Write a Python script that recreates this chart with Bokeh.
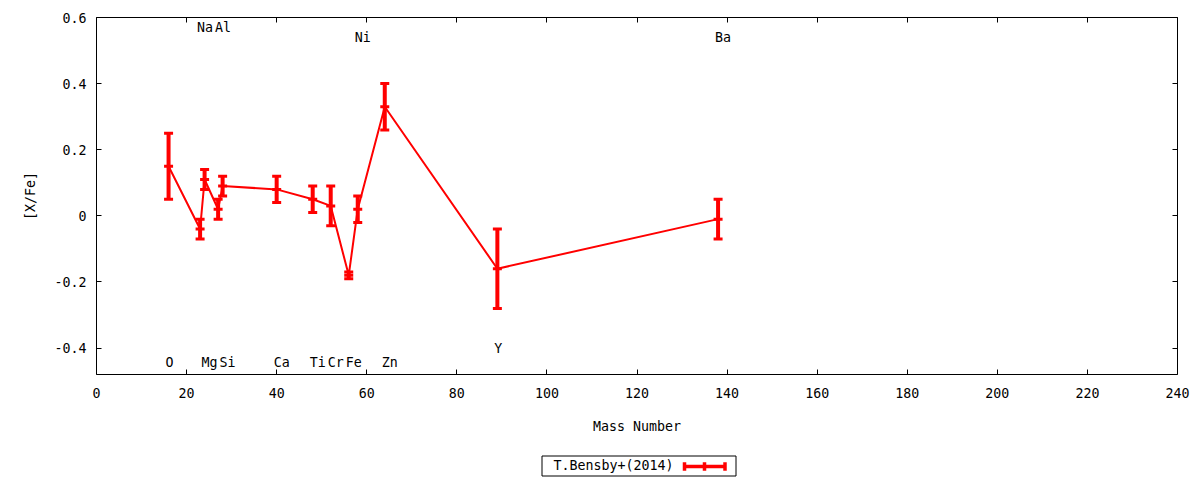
from bokeh.plotting import figure
from bokeh.models import Range1d, FixedTicker, LinearAxis, ColumnDataSource
from bokeh.layouts import column
from bokeh.core.properties import value
from bokeh.embed import file_html
from bokeh.resources import INLINE

# ---- data ----
elements = ["O", "Na", "Mg", "Al", "Si", "Ca", "Ti", "Cr", "Fe", "Ni", "Zn", "Y", "Ba"]
mass_number = [16, 23, 24, 27, 28, 40, 48, 52, 56, 58, 64, 89, 138]
x_fe = [0.15, -0.04, 0.11, 0.02, 0.09, 0.08, 0.05, 0.03, -0.18, 0.02, 0.33, -0.16, -0.01]
x_fe_err = [0.10, 0.03, 0.03, 0.03, 0.03, 0.04, 0.04, 0.06, 0.01, 0.04, 0.07, 0.12, 0.06]
label_y = [-0.445, 0.57, -0.445, 0.57, -0.445, -0.445, -0.445, -0.445, -0.445, 0.54, -0.445, -0.40, 0.54]

x_ticks = [0, 20, 40, 60, 80, 100, 120, 140, 160, 180, 200, 220, 240]
y_ticks = [-0.4, -0.2, 0.0, 0.2, 0.4, 0.6]
y_tick_labels = ["-0.4", "-0.2", "0", "0.2", "0.4", "0.6"]
series_name = "T.Bensby+(2014)"

FONT = "DejaVu Sans Mono"
FS = "13.3px"
RED = "#ff0000"

p = figure(width=1200, height=440, output_backend="svg", toolbar_location=None,
           x_range=Range1d(0, 240), y_range=Range1d(-0.48, 0.6),
           min_border_left=96, min_border_right=23, min_border_top=17, min_border_bottom=66)
p.grid.visible = False
p.outline_line_color = "black"
p.outline_line_width = 1
p.background_fill_color = "white"
p.border_fill_color = "white"

for ax in (p.xaxis[0], p.yaxis[0]):
    ax.axis_line_color = None
    ax.major_tick_in = 5
    ax.major_tick_out = 0
    ax.minor_tick_line_color = None
    ax.major_tick_line_color = "black"
    ax.major_label_text_font = FONT
    ax.major_label_text_font_size = FS
    ax.major_label_text_color = "black"
    ax.axis_label_text_font = FONT
    ax.axis_label_text_font_size = FS
    ax.axis_label_text_font_style = "normal"
    ax.axis_label_text_color = "black"

p.xaxis.ticker = FixedTicker(ticks=x_ticks)
p.yaxis.ticker = FixedTicker(ticks=y_ticks)
p.yaxis.major_label_overrides = {v: s for v, s in zip(y_ticks, y_tick_labels)}
p.xaxis.axis_label = "Mass Number"
p.yaxis.axis_label = "[X/Fe]"
p.xaxis.major_label_standoff = 13
p.yaxis.major_label_standoff = 10
p.xaxis.axis_label_standoff = 18
p.yaxis.axis_label_standoff = 13

# mirrored ticks on top and right
top_ax = LinearAxis(ticker=FixedTicker(ticks=x_ticks), axis_line_color=None,
                    major_tick_in=5, major_tick_out=0, minor_tick_line_color=None,
                    major_label_overrides={v: "" for v in x_ticks}, major_label_standoff=0,
                    major_label_text_font_size="1px")
right_ax = LinearAxis(ticker=FixedTicker(ticks=y_ticks), axis_line_color=None,
                      major_tick_in=5, major_tick_out=0, minor_tick_line_color=None,
                      major_label_overrides={v: "" for v in y_ticks}, major_label_standoff=0,
                      major_label_text_font_size="1px")
p.add_layout(top_ax, "above")
p.add_layout(right_ax, "right")

src = ColumnDataSource(dict(
    x=mass_number, y=x_fe,
    lo=[v - e for v, e in zip(x_fe, x_fe_err)],
    hi=[v + e for v, e in zip(x_fe, x_fe_err)],
    ly=label_y, name=elements,
))

p.line("x", "y", source=src, line_color=RED, line_width=2)
p.segment(x0="x", y0="lo", x1="x", y1="hi", source=src, line_color=RED, line_width=4)
for col in ("lo", "hi", "y"):
    p.rect(x="x", y=col, width=9, height=3, width_units="screen", height_units="screen",
           source=src, fill_color=RED, line_color=None)

p.text(x="x", y="ly", text="name", source=src, text_font=value(FONT), text_font_size=FS,
       text_color="black", text_align="left", text_baseline="middle", x_offset=-3)

# ---- key (legend) strip below, gnuplot style: text then sample ----
# its frame is aligned with the main frame (page x 96..1177), so data x == page x
k = figure(width=1200, height=40, output_backend="svg", toolbar_location=None,
           x_range=Range1d(96, 1177), y_range=Range1d(0, 40),
           x_axis_location=None, y_axis_location=None,
           min_border_left=96, min_border_right=23, min_border_top=0, min_border_bottom=0)
k.grid.visible = False
k.outline_line_color = None
k.background_fill_color = "white"
k.border_fill_color = "white"

k.quad(left=[541.5], right=[735.5], bottom=[4.5], top=[24.5],
       fill_color="white", line_color="black", line_width=1)
k.text(x=[553], y=[15], text=[series_name], text_font=value(FONT), text_font_size=FS,
       text_color="black", text_align="left", text_baseline="middle")
k.segment(x0=[683], y0=[14], x1=[725], y1=[14], line_color=RED, line_width=3.5)
k.segment(x0=[684, 704, 724.5], y0=[9.7, 9.7, 9.7], x1=[684, 704, 724.5], y1=[18.3, 18.3, 18.3],
          line_color=RED, line_width=3.5)

layout = column(p, k, spacing=0)
open("out.html", "w").write(file_html(layout, INLINE))
